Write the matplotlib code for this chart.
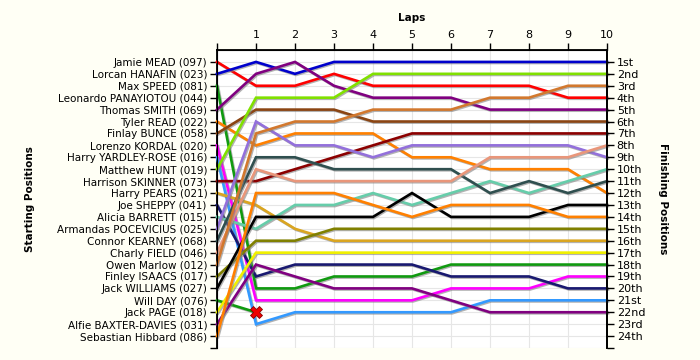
import matplotlib
matplotlib.use('Agg')
import matplotlib.pyplot as plt
import matplotlib.patheffects as pe

# starting grid order (lap 0 position = index + 1)
drivers = [
    'Jamie MEAD (097)', 'Lorcan HANAFIN (023)', 'Max SPEED (081)',
    'Leonardo PANAYIOTOU (044)', 'Thomas SMITH (069)', 'Tyler READ (022)',
    'Finlay BUNCE (058)', 'Lorenzo KORDAL (020)', 'Harry YARDLEY-ROSE (016)',
    'Matthew HUNT (019)', 'Harrison SKINNER (073)', 'Harry PEARS (021)',
    'Joe SHEPPY (041)', 'Alicia BARRETT (015)', 'Armandas POCEVICIUS (025)',
    'Connor KEARNEY (068)', 'Charly FIELD (046)', 'Owen Marlow (012)',
    'Finley ISAACS (017)', 'Jack WILLIAMS (027)', 'Will DAY (076)',
    'Jack PAGE (018)', 'Alfie BAXTER-DAVIES (031)', 'Sebastian Hibbard (086)',
]

finish_labels = [
    '1st', '2nd', '3rd', '4th', '5th', '6th', '7th', '8th', '9th', '10th',
    '11th', '12th', '13th', '14th', '15th', '16th', '17th', '18th', '19th',
    '20th', '21st', '22nd', '23rd', '24th',
]

lap_labels = ['', '1', '2', '3', '4', '5', '6', '7', '8', '9', '10']

# position at lap 0..10 for each driver (grid first)
positions = [
    [1, 3, 3, 2, 3, 3, 3, 3, 3, 4, 4],
    [2, 1, 2, 1, 1, 1, 1, 1, 1, 1, 1],
    [3, 20, 20, 19, 19, 19, 18, 18, 18, 18, 18],
    [],
    [5, 2, 1, 3, 4, 4, 4, 5, 5, 5, 5],
    [6, 8, 7, 7, 7, 9, 9, 10, 10, 10, 12],
    [7, 5, 5, 5, 6, 6, 6, 6, 6, 6, 6],
    [8, 21, 21, 21, 21, 21, 20, 20, 20, 19, 19],
    [9, 23, 22, 22, 22, 22, 22, 21, 21, 21, 21],
    [10, 4, 4, 4, 2, 2, 2, 2, 2, 2, 2],
    [11, 11, 10, 9, 8, 7, 7, 7, 7, 7, 7],
    [12, 13, 15, 16, 16, 16, 16, 16, 16, 16, 16],
    [13, 19, 18, 18, 18, 18, 19, 19, 19, 20, 20],
    [14, 15, 13, 13, 12, 13, 12, 11, 12, 11, 10],
    [15, 6, 8, 8, 9, 8, 8, 8, 8, 8, 9],
    [16, 9, 9, 10, 10, 10, 10, 12, 11, 12, 11],
    [17, 10, 11, 11, 11, 11, 11, 9, 9, 9, 8],
    [18, 7, 6, 6, 5, 5, 5, 4, 4, 3, 3],
    [19, 16, 16, 15, 15, 15, 15, 15, 15, 15, 15],
    [20, 14, 14, 14, 14, 12, 14, 14, 14, 13, 13],
    [21, 22],
    [22, 17, 17, 17, 17, 17, 17, 17, 17, 17, 17],
    [23, 18, 19, 20, 20, 20, 21, 22, 22, 22, 22],
    [24, 12, 12, 12, 13, 14, 13, 13, 13, 14, 14],
]

colors = [
    '#FF0000', '#0000CC', '#109A10', '#808080', '#800080', '#FF8000',
    '#8B4513', '#FF00FF', '#3399FF', '#80E000', '#8B0000', '#DAA520',
    '#191970', '#66CDAA', '#9370DB', '#2F4F4F', '#E9967A', '#D2782E',
    '#808000', '#000000', '#109A10', '#F0F000', '#800080', '#FF8000',
]

retired = ['Will DAY (076)']

plt.rcParams['font.family'] = ['DejaVu Sans']
plt.rcParams['font.size'] = 7.5

fig = plt.figure(figsize=(7, 3.6), dpi=100, facecolor='#FFFFF5')
ax = fig.add_axes([217 / 700, 12 / 360, 390 / 700, 298 / 360])
ax.set_facecolor('white')

shadow = [pe.SimpleLineShadow(offset=(0.8, -0.8), shadow_color='#808080', alpha=0.6),
          pe.Normal()]

for name, pos, col in zip(drivers, positions, colors):
    if not pos:
        continue
    laps = list(range(len(pos)))
    ax.plot(laps, pos, color=col, linewidth=1.9, solid_joinstyle='miter',
            path_effects=shadow, zorder=3, clip_on=False)
    if name in retired:
        ax.plot(laps[-1], pos[-1], marker='X', markersize=8, color='#EE0000',
                markeredgecolor='#880000', markeredgewidth=0.6, zorder=5)

ax.set_xlim(0, 10)
ax.set_ylim(25, 0)

ax.xaxis.tick_top()
ax.set_xticks(range(11))
ax.set_xticklabels(lap_labels, fontsize=8)

ax.set_yticks(range(1, 26))
ax.set_yticklabels(drivers + [''])

ax.grid(True, color='#E6E6E6', linewidth=0.8, zorder=0)
ax.set_axisbelow(True)

for side in ['top', 'left', 'right']:
    ax.spines[side].set_linewidth(1.3)
ax.spines['bottom'].set_visible(False)
ax.tick_params(axis='both', length=5, width=1, colors='black', pad=2)
ax.tick_params(axis='x', bottom=False)

ax2 = ax.twinx()
ax2.set_ylim(25, 0)
ax2.set_yticks(range(1, 26))
ax2.set_yticklabels(finish_labels + [''], fontsize=8)
ax2.tick_params(axis='y', length=5, width=1, pad=2)
ax2.spines['bottom'].set_visible(False)
ax2.spines['right'].set_linewidth(1.3)

fig.text(412 / 700, 1 - 18 / 360, 'Laps', fontweight='bold', ha='center', va='center')
fig.text(30 / 700, 1 - 199 / 360, 'Starting Positions', fontweight='bold',
         rotation=90, ha='center', va='center')
fig.text(663 / 700, 1 - 199 / 360, 'Finishing Positions', fontweight='bold',
         rotation=270, ha='center', va='center')

fig.savefig('out.png', dpi=100, facecolor=fig.get_facecolor())
